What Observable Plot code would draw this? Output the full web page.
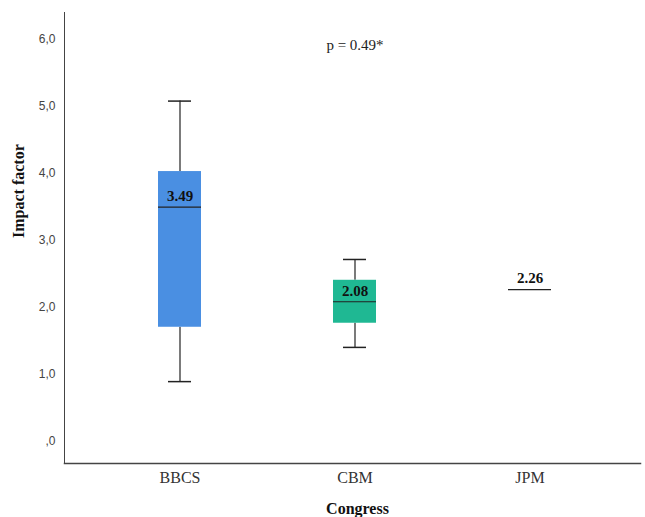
<!DOCTYPE html>
<html>
<head>
<meta charset="utf-8">
<script src="https://cdn.jsdelivr.net/npm/d3@7"></script>
<script src="https://cdn.jsdelivr.net/npm/@observablehq/plot@0.6"></script>
<style>
  html, body { margin: 0; padding: 0; background: #fff; }
  #chart { width: 645px; height: 517px; }
</style>
</head>
<body>
<div id="chart"></div>
<script>
const categories = ["BBCS", "CBM", "JPM"];
const lowerWhisker = [0.89, 1.40, null];
const q1 = [1.70, 1.76, null];
const median = [3.49, 2.08, 2.26];
const q3 = [4.02, 2.40, null];
const upperWhisker = [5.07, 2.71, null];
const medianLabels = ["3.49", "2.08", "2.26"];
const boxColors = ["#4a8fe2", "#1fb893", "#ffffff"];
const yTicks = [0, 1, 2, 3, 4, 5, 6];
const annotation = [{x: "CBM", y: 5.9, text: "p = 0.49*"}];
const yLabel = "Impact factor";
const xLabel = "Congress";

const rows = categories.map((c, i) => ({
  cat: c, lo: lowerWhisker[i], q1: q1[i], med: median[i], q3: q3[i], hi: upperWhisker[i],
  label: medianLabels[i], color: boxColors[i]
}));
const boxed = rows.filter(d => d.q1 != null);

const fmt = d => d === 0 ? ",0" : d.toFixed(1).replace(".", ",");
const serif = "Liberation Serif";

const chart = Plot.plot({
  width: 645,
  height: 517,
  marginLeft: 64,
  marginRight: 5,
  marginTop: 12,
  marginBottom: 54,
  style: {fontFamily: serif, background: "#fff"},
  x: {domain: categories, range: [92, 617], padding: 0},
  y: {domain: [-0.33, 6.39]},
  marks: [
    Plot.frame({anchor: "left", stroke: "#444"}),
    Plot.frame({anchor: "bottom", stroke: "#444", strokeWidth: 1.5}),
    Plot.axisY({ticks: yTicks, tickFormat: fmt, tickSize: 0, tickPadding: 9, label: null,
      fontSize: 12, fontFamily: "Liberation Sans", fill: "#444"}),
    Plot.axisX({tickSize: 0, tickPadding: 8, label: null, fontSize: 16, fontFamily: serif, fill: "#333"}),
    Plot.ruleX(boxed, {x: "cat", y1: "lo", y2: "q1", stroke: "#222", strokeWidth: 1.2}),
    Plot.ruleX(boxed, {x: "cat", y1: "q3", y2: "hi", stroke: "#222", strokeWidth: 1.2}),
    Plot.tickY(boxed, {x: "cat", y: "lo", stroke: "#222", strokeWidth: 1.5, insetLeft: 76, insetRight: 76}),
    Plot.tickY(boxed, {x: "cat", y: "hi", stroke: "#222", strokeWidth: 1.5, insetLeft: 76, insetRight: 76}),
    Plot.barY(boxed, {x: "cat", y1: "q1", y2: "q3", fill: "color", insetLeft: 66, insetRight: 66}),
    Plot.tickY(rows, {x: "cat", y: "med", stroke: "#222", strokeWidth: 1.2, insetLeft: 66, insetRight: 66}),
    Plot.text(rows, {x: "cat", y: "med", text: "label", dy: -11, fontWeight: "bold", fontSize: 15, fontFamily: serif, fill: "#111"}),
    Plot.text(annotation, {x: "x", y: "y", text: "text", fontSize: 15, fontFamily: serif, fill: "#222"}),
    Plot.text([yLabel], {frameAnchor: "left", dx: -46, rotate: -90, fontWeight: "bold", fontSize: 16, fontFamily: serif, fill: "#111"}),
    Plot.text([xLabel], {frameAnchor: "bottom", dx: 5, dy: 50, fontWeight: "bold", fontSize: 16, fontFamily: serif, fill: "#111"})
  ]
});
document.getElementById("chart").append(chart);
</script>
</body>
</html>
